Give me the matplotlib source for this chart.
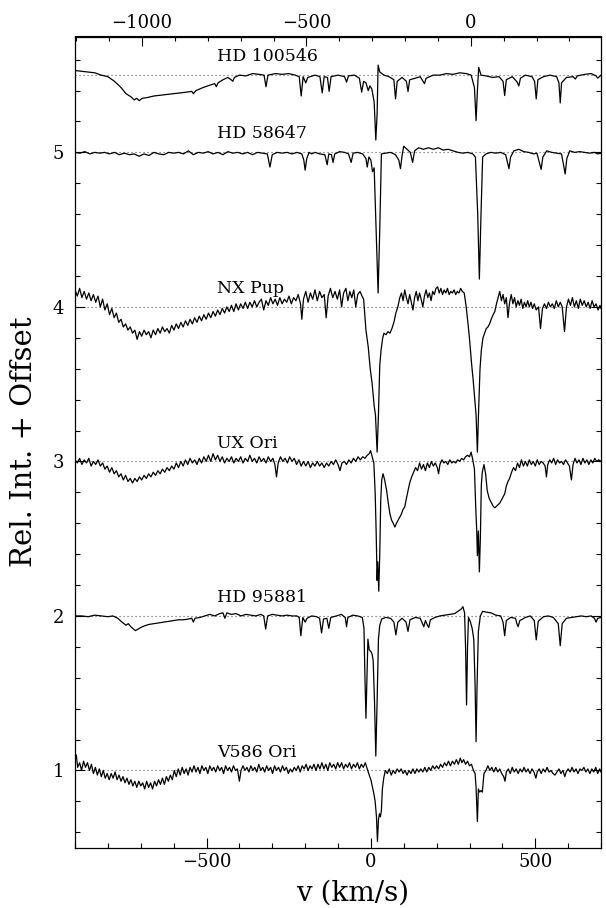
import matplotlib
matplotlib.use('Agg')
import matplotlib.pyplot as plt
from matplotlib.ticker import MultipleLocator

names = ['HD 100546', 'HD 58647', 'NX Pup', 'UX Ori', 'HD 95881', 'V586 Ori']
offsets = [4.5, 4.0, 3.0, 2.0, 1.0, 0.0]
bottom_ticks = [-500, 0, 500]
top_ticks = [-1000, -500, 0]
na_sep = 304.0  # km/s between Na D2 and D1 (top axis shift)

HD100546 = [
    (-900, 1.03), (-880, 1.025), (-860, 1.02), (-840, 1.015), (-820, 1.0), (-800, 0.99),
    (-780, 0.96), (-760, 0.92), (-745, 0.88), (-730, 0.86), (-720, 0.84), (-712, 0.85),
    (-705, 0.835), (-695, 0.85), (-680, 0.855), (-660, 0.865), (-640, 0.87), (-620, 0.875),
    (-600, 0.88), (-580, 0.885), (-560, 0.89), (-545, 0.895), (-540, 0.88), (-532, 0.9),
    (-510, 0.92), (-490, 0.935), (-475, 0.945), (-470, 0.925), (-465, 0.95), (-450, 0.97),
    (-435, 0.985), (-425, 0.97), (-420, 0.96), (-415, 0.985), (-400, 1.0), (-380, 0.995),
    (-360, 1.01), (-340, 1.005), (-325, 1.0), (-319, 0.925), (-313, 1.0), (-290, 1.01),
    (-270, 1.005), (-250, 1.01), (-230, 1.0), (-218, 0.99), (-212, 0.865), (-206, 0.99),
    (-198, 0.95), (-192, 0.985), (-170, 1.0), (-155, 0.99), (-148, 0.885), (-142, 0.99),
    (-132, 0.985), (-127, 0.895), (-121, 0.99), (-100, 1.0), (-80, 0.99), (-74, 0.955),
    (-68, 0.995), (-50, 1.0), (-35, 0.98), (-28, 0.89), (-22, 0.96), (-15, 0.95),
    (-8, 0.9), (-3, 0.93), (3, 0.91), (10, 0.825), (15, 0.58), (19, 0.75), (22, 1.065),
    (27, 1.02), (40, 1.0), (55, 0.99), (70, 0.97), (75, 0.846), (80, 0.96), (95, 0.985),
    (108, 0.96), (113, 0.894), (118, 0.97), (135, 0.98), (150, 0.99), (163, 0.945),
    (168, 0.98), (190, 1.0), (210, 1.0), (230, 1.01), (250, 1.005), (270, 1.015),
    (290, 1.01), (305, 1.0), (315, 0.92), (320, 0.705), (324, 0.9), (328, 1.05),
    (335, 1.0), (350, 0.995), (370, 0.985), (390, 0.99), (402, 0.96), (407, 0.868),
    (412, 0.97), (430, 0.99), (445, 0.955), (450, 0.93), (455, 0.98), (470, 1.0),
    (490, 0.99), (498, 0.96), (503, 0.846), (508, 0.97), (525, 0.99), (545, 1.0),
    (565, 0.99), (572, 0.95), (576, 0.82), (580, 0.95), (595, 0.985), (615, 0.99),
    (622, 0.975), (628, 0.995), (650, 1.005), (670, 1.01), (685, 0.995), (690, 0.98),
    (700, 1.0),
]

HD58647 = [
    (-900, 1.0), (-885, 0.995), (-870, 1.005), (-855, 0.99), (-840, 1.0), (-825, 0.995),
    (-810, 1.0), (-795, 0.99), (-780, 1.0), (-765, 0.985), (-750, 0.995), (-735, 0.985),
    (-720, 0.99), (-705, 0.975), (-690, 0.99), (-675, 0.98), (-660, 1.0), (-645, 0.99),
    (-630, 0.985), (-615, 1.0), (-600, 0.995), (-585, 1.0), (-570, 0.99), (-555, 1.01),
    (-540, 0.985), (-525, 1.0), (-510, 0.995), (-495, 1.005), (-480, 0.99), (-465, 1.0),
    (-450, 0.985), (-435, 1.005), (-420, 0.995), (-405, 1.0), (-390, 0.99), (-375, 1.0),
    (-360, 0.985), (-345, 1.0), (-330, 0.995), (-315, 0.99), (-307, 0.905), (-300, 0.985),
    (-285, 1.0), (-270, 0.995), (-255, 1.0), (-240, 0.99), (-225, 1.0), (-210, 0.99),
    (-204, 0.95), (-200, 0.885), (-195, 0.96), (-188, 1.0), (-180, 0.99), (-170, 1.0),
    (-155, 0.99), (-140, 0.985), (-133, 0.92), (-128, 0.99), (-120, 0.985), (-115, 0.935),
    (-110, 0.99), (-95, 1.005), (-80, 1.0), (-68, 0.99), (-60, 0.935), (-54, 0.995),
    (-40, 1.0), (-25, 0.99), (-15, 0.96), (-11, 0.905), (-6, 0.97), (0, 0.95), (5, 0.875),
    (10, 0.9), (16, 0.5), (22, 0.09), (27, 0.5), (32, 0.99), (45, 0.995), (60, 1.0),
    (75, 0.985), (85, 0.95), (90, 0.895), (95, 0.98), (100, 1.04), (110, 1.02), (120, 1.0),
    (127, 0.935), (133, 1.01), (145, 1.03), (160, 1.02), (175, 1.03), (190, 1.02),
    (205, 1.03), (220, 1.015), (235, 1.02), (250, 1.01), (265, 1.0), (280, 0.995),
    (295, 1.0), (310, 0.99), (318, 0.97), (325, 0.6), (330, 0.18), (335, 0.6), (340, 0.97),
    (350, 0.99), (365, 1.0), (380, 0.995), (395, 1.0), (410, 0.985), (416, 0.93),
    (420, 0.895), (425, 0.97), (435, 1.01), (450, 1.02), (465, 1.005), (480, 1.0),
    (495, 0.99), (505, 0.995), (513, 0.93), (518, 0.89), (523, 0.97), (535, 1.01),
    (550, 1.0), (565, 0.995), (580, 0.99), (586, 0.92), (591, 0.86), (596, 0.96),
    (605, 1.01), (620, 1.0), (635, 1.005), (650, 1.0), (665, 0.995), (680, 1.0),
    (690, 0.99), (700, 0.995),
]

NXPUP = [
    (-900, 1.11), (-893, 1.07), (-886, 1.12), (-879, 1.06), (-872, 1.10), (-865, 1.05),
    (-858, 1.09), (-851, 1.04), (-844, 1.08), (-837, 1.03), (-830, 1.07), (-823, 1.00),
    (-816, 1.05), (-809, 0.98), (-802, 1.02), (-795, 0.95), (-788, 0.99), (-781, 0.93),
    (-774, 0.96), (-767, 0.90), (-760, 0.92), (-753, 0.87), (-746, 0.89), (-739, 0.85),
    (-732, 0.87), (-725, 0.83), (-718, 0.85), (-711, 0.79), (-704, 0.84), (-697, 0.81),
    (-690, 0.85), (-683, 0.82), (-676, 0.84), (-669, 0.80), (-662, 0.85), (-655, 0.82),
    (-648, 0.86), (-641, 0.83), (-634, 0.87), (-627, 0.84), (-620, 0.86), (-613, 0.83),
    (-606, 0.88), (-599, 0.85), (-592, 0.89), (-585, 0.86), (-578, 0.90), (-571, 0.87),
    (-564, 0.91), (-557, 0.88), (-550, 0.92), (-543, 0.89), (-536, 0.93), (-529, 0.90),
    (-522, 0.94), (-515, 0.91), (-508, 0.95), (-501, 0.92), (-494, 0.96), (-487, 0.93),
    (-480, 0.97), (-473, 0.94), (-466, 0.98), (-459, 0.95), (-452, 0.99), (-445, 0.96),
    (-438, 1.00), (-431, 0.97), (-424, 1.01), (-417, 0.97), (-410, 1.02), (-403, 0.98),
    (-396, 1.02), (-389, 0.99), (-382, 1.03), (-375, 0.99), (-368, 1.03), (-361, 1.00),
    (-354, 1.04), (-347, 1.00), (-340, 1.03), (-333, 1.05), (-326, 0.98), (-319, 1.04),
    (-312, 1.01), (-305, 1.06), (-298, 1.02), (-291, 1.05), (-284, 1.01), (-277, 1.06),
    (-270, 1.02), (-263, 1.05), (-256, 1.03), (-249, 1.07), (-242, 1.02), (-235, 1.06),
    (-228, 1.04), (-221, 1.08), (-214, 1.02), (-210, 0.92), (-205, 1.05), (-198, 1.10),
    (-191, 1.03), (-184, 1.09), (-177, 1.05), (-170, 1.11), (-163, 1.04), (-156, 1.10),
    (-149, 1.06), (-142, 1.08), (-136, 0.93), (-130, 1.07), (-123, 1.12), (-116, 1.06),
    (-109, 1.10), (-102, 1.05), (-95, 1.11), (-89, 1.00), (-83, 1.09), (-76, 1.12),
    (-70, 1.04), (-64, 1.10), (-58, 1.06), (-52, 1.11), (-46, 1.00), (-40, 1.08),
    (-33, 1.10), (-27, 1.07), (-22, 1.05), (-15, 0.85), (-8, 0.74), (-2, 0.60), (4, 0.50),
    (10, 0.36), (14, 0.30), (19, 0.06), (23, 0.30), (27, 0.62), (31, 0.72), (36, 0.80),
    (40, 0.83), (46, 0.82), (52, 0.84), (58, 0.83), (64, 0.86), (70, 0.90), (76, 0.96),
    (82, 1.00), (88, 1.06), (93, 1.09), (98, 1.04), (103, 1.11), (108, 1.06), (113, 1.02),
    (118, 1.08), (123, 1.03), (128, 0.98), (133, 1.06), (138, 1.10), (143, 1.04),
    (148, 1.09), (153, 1.05), (158, 1.00), (163, 1.07), (168, 1.11), (173, 1.06),
    (178, 1.09), (183, 1.04), (188, 1.10), (193, 1.08), (198, 1.12), (203, 1.13),
    (208, 1.09), (213, 1.12), (218, 1.08), (223, 1.11), (228, 1.09), (233, 1.12),
    (238, 1.08), (243, 1.10), (248, 1.09), (253, 1.11), (258, 1.08), (263, 1.10),
    (268, 1.09), (273, 1.12), (278, 1.10), (284, 1.09), (290, 1.00), (296, 0.88),
    (301, 0.77), (306, 0.64), (311, 0.53), (316, 0.40), (320, 0.30), (324, 0.06),
    (328, 0.35), (332, 0.60), (336, 0.72), (341, 0.80), (346, 0.83), (351, 0.86),
    (356, 0.87), (361, 0.89), (366, 0.92), (372, 0.95), (377, 0.97), (382, 1.02),
    (387, 1.06), (392, 1.10), (397, 1.04), (402, 1.08), (407, 1.02), (412, 1.06),
    (417, 0.93), (422, 1.03), (427, 1.08), (432, 1.02), (437, 1.06), (442, 1.00),
    (447, 1.04), (452, 1.01), (457, 1.05), (462, 0.99), (467, 1.03), (472, 1.00),
    (477, 1.04), (482, 1.00), (487, 1.03), (492, 0.99), (497, 1.02), (503, 0.98),
    (510, 1.00), (516, 0.86), (522, 0.99), (528, 1.02), (534, 0.99), (540, 1.03),
    (546, 1.00), (552, 1.02), (558, 0.99), (564, 1.04), (570, 1.00), (576, 1.03),
    (582, 1.00), (589, 0.84), (595, 1.00), (601, 1.05), (607, 1.01), (613, 1.06),
    (619, 1.00), (625, 1.04), (631, 0.99), (637, 1.05), (643, 1.01), (649, 1.04),
    (655, 1.00), (661, 1.03), (667, 0.99), (673, 1.04), (679, 1.00), (685, 1.02),
    (691, 0.98), (697, 1.01), (700, 0.99),
]

UXORI = [
    (-900, 1.01), (-893, 0.99), (-886, 1.02), (-879, 0.98), (-872, 1.01), (-865, 0.99),
    (-858, 1.02), (-851, 0.97), (-844, 1.00), (-837, 0.98), (-830, 1.01), (-823, 0.97),
    (-816, 0.99), (-809, 0.95), (-802, 0.97), (-795, 0.93), (-788, 0.96), (-781, 0.92),
    (-774, 0.94), (-767, 0.90), (-760, 0.92), (-753, 0.88), (-746, 0.91), (-739, 0.87),
    (-732, 0.89), (-725, 0.86), (-718, 0.89), (-711, 0.87), (-704, 0.90), (-697, 0.88),
    (-690, 0.91), (-683, 0.89), (-676, 0.92), (-669, 0.90), (-662, 0.93), (-655, 0.91),
    (-648, 0.94), (-641, 0.92), (-634, 0.95), (-627, 0.93), (-620, 0.96), (-613, 0.94),
    (-606, 0.97), (-599, 0.95), (-592, 0.99), (-585, 0.96), (-578, 1.00), (-571, 0.97),
    (-564, 1.01), (-557, 0.98), (-550, 1.02), (-543, 0.99), (-536, 1.01), (-529, 0.98),
    (-522, 1.02), (-515, 0.99), (-508, 1.03), (-501, 1.00), (-494, 1.04), (-487, 1.00),
    (-480, 1.05), (-473, 1.01), (-466, 1.04), (-459, 1.00), (-452, 1.03), (-445, 0.99),
    (-438, 1.02), (-431, 1.00), (-424, 1.03), (-417, 0.99), (-410, 1.02), (-403, 1.00),
    (-396, 1.03), (-389, 0.99), (-382, 1.02), (-375, 1.00), (-368, 1.04), (-361, 1.00),
    (-354, 1.02), (-347, 0.99), (-340, 1.03), (-333, 1.00), (-326, 1.02), (-319, 0.99),
    (-312, 1.03), (-305, 1.00), (-298, 1.02), (-292, 0.98), (-287, 0.90), (-282, 0.99),
    (-275, 1.03), (-268, 1.00), (-261, 1.02), (-254, 0.99), (-247, 1.03), (-240, 1.00),
    (-233, 1.02), (-226, 0.98), (-219, 1.01), (-212, 0.97), (-205, 1.00), (-198, 0.97),
    (-191, 1.00), (-184, 0.96), (-177, 0.99), (-170, 0.97), (-163, 1.00), (-156, 0.97),
    (-149, 0.99), (-142, 0.96), (-135, 0.99), (-128, 0.97), (-121, 1.00), (-114, 0.98),
    (-107, 1.01), (-100, 0.98), (-94, 0.94), (-88, 0.99), (-81, 1.00), (-74, 0.98),
    (-67, 1.01), (-60, 0.99), (-53, 1.02), (-46, 1.00), (-39, 1.03), (-32, 1.01),
    (-25, 1.03), (-18, 1.02), (-11, 1.04), (-5, 1.05), (-1, 1.07), (4, 1.03), (9, 0.99),
    (13, 0.80), (16, 0.55), (19, 0.23), (21, 0.35), (24, 0.16), (27, 0.40), (30, 0.75),
    (33, 0.88), (37, 0.92), (42, 0.88), (48, 0.81), (53, 0.73), (58, 0.66), (63, 0.62),
    (68, 0.60), (73, 0.575), (78, 0.60), (83, 0.62), (88, 0.64), (93, 0.66), (98, 0.69),
    (103, 0.705), (108, 0.76), (113, 0.81), (118, 0.86), (124, 0.90), (130, 0.93),
    (136, 0.96), (142, 0.94), (148, 0.99), (154, 0.95), (160, 0.98), (166, 0.94),
    (172, 0.99), (178, 0.96), (184, 1.00), (190, 0.97), (196, 0.99), (202, 0.96),
    (206, 0.92), (210, 0.98), (216, 1.01), (222, 0.99), (228, 1.00), (234, 0.98),
    (240, 1.01), (246, 0.99), (252, 1.00), (258, 0.99), (264, 1.01), (270, 1.00),
    (276, 1.02), (282, 1.01), (288, 1.03), (294, 1.04), (300, 1.03), (305, 1.06),
    (310, 1.01), (315, 0.95), (319, 0.70), (322, 0.55), (324, 0.39), (327, 0.55),
    (330, 0.285), (333, 0.50), (336, 0.85), (339, 0.93), (344, 0.98), (349, 0.92),
    (354, 0.81), (360, 0.76), (367, 0.73), (372, 0.71), (377, 0.70), (382, 0.71),
    (387, 0.72), (392, 0.73), (397, 0.75), (402, 0.77), (407, 0.79), (412, 0.84),
    (417, 0.87), (422, 0.89), (428, 0.93), (434, 0.96), (440, 0.94), (446, 0.99),
    (452, 0.96), (458, 1.01), (464, 0.97), (470, 1.00), (476, 0.97), (482, 1.01),
    (488, 0.98), (494, 1.00), (500, 0.97), (506, 1.01), (512, 0.98), (518, 1.00),
    (524, 0.99), (530, 0.97), (534, 0.90), (538, 0.98), (544, 1.01), (550, 0.99),
    (556, 1.02), (562, 0.98), (568, 1.01), (574, 0.99), (580, 1.00), (586, 0.98),
    (592, 1.01), (598, 0.99), (604, 0.97), (610, 0.88), (615, 0.98), (621, 1.02),
    (627, 0.99), (633, 1.01), (639, 0.98), (645, 1.02), (651, 0.99), (657, 1.01),
    (663, 0.98), (669, 1.01), (675, 0.99), (681, 1.02), (687, 1.00), (693, 1.01),
    (700, 1.00),
]

HD95881 = [
    (-900, 1.0), (-880, 1.0), (-860, 0.995), (-840, 1.005), (-820, 1.0), (-800, 0.995),
    (-785, 1.0), (-770, 0.985), (-757, 0.96), (-745, 0.94), (-738, 0.95), (-730, 0.93),
    (-722, 0.915), (-716, 0.905), (-708, 0.915), (-700, 0.925), (-690, 0.935),
    (-675, 0.945), (-660, 0.95), (-645, 0.955), (-630, 0.96), (-615, 0.965), (-600, 0.97),
    (-585, 0.975), (-570, 0.975), (-555, 0.98), (-545, 0.985), (-540, 0.96), (-535, 0.985),
    (-520, 0.99), (-505, 1.0), (-490, 1.01), (-475, 1.0), (-460, 1.015), (-450, 1.02),
    (-444, 0.985), (-438, 1.02), (-425, 1.01), (-410, 1.015), (-395, 1.0), (-380, 1.01),
    (-365, 1.005), (-350, 1.0), (-335, 1.01), (-326, 1.0), (-320, 0.915), (-314, 1.0),
    (-300, 1.01), (-285, 1.005), (-270, 1.0), (-255, 1.005), (-240, 1.0), (-225, 1.0),
    (-218, 0.99), (-213, 0.872), (-207, 0.99), (-200, 0.96), (-194, 0.985), (-180, 1.0),
    (-165, 0.995), (-156, 0.985), (-150, 0.89), (-144, 0.98), (-134, 0.985), (-128, 0.92),
    (-122, 0.99), (-105, 1.0), (-90, 1.01), (-78, 0.99), (-74, 0.93), (-70, 0.99),
    (-55, 1.005), (-40, 1.0), (-26, 0.99), (-21, 0.92), (-18, 0.6), (-15, 0.338),
    (-12, 0.6), (-9, 0.85), (-5, 0.78), (0, 0.77), (4, 0.75), (7, 0.71), (11, 0.45),
    (15, 0.093), (19, 0.45), (23, 0.85), (27, 0.94), (33, 0.98), (45, 0.99), (60, 0.985),
    (70, 0.96), (76, 0.877), (82, 0.96), (95, 0.985), (107, 0.96), (113, 0.9), (119, 0.975),
    (135, 0.99), (150, 0.985), (157, 0.95), (161, 0.93), (166, 0.97), (172, 0.94),
    (176, 0.925), (181, 0.975), (195, 0.99), (210, 1.0), (225, 1.005), (240, 1.01),
    (255, 1.015), (265, 1.03), (275, 1.045), (280, 1.06), (285, 1.02), (288, 0.8),
    (291, 0.424), (294, 0.8), (297, 0.99), (303, 0.96), (308, 0.92), (313, 0.85),
    (317, 0.55), (320, 0.186), (323, 0.55), (327, 0.9), (333, 1.0), (340, 1.03),
    (350, 1.025), (365, 1.02), (380, 1.005), (395, 1.0), (402, 0.96), (407, 0.872),
    (412, 0.97), (425, 0.99), (440, 0.985), (444, 0.95), (448, 0.93), (453, 0.97),
    (470, 0.99), (485, 1.0), (497, 0.97), (503, 0.845), (509, 0.965), (525, 0.995),
    (540, 1.0), (555, 0.99), (570, 0.95), (576, 0.807), (582, 0.95), (595, 0.985),
    (610, 0.99), (625, 0.995), (640, 1.0), (655, 0.995), (670, 1.0), (680, 0.985),
    (685, 0.96), (690, 0.985), (700, 0.99),
]

V586ORI = [
    (-900, 1.06), (-896, 1.10), (-892, 1.02), (-886, 1.05), (-880, 1.00), (-874, 1.06),
    (-868, 1.02), (-862, 1.05), (-856, 1.00), (-850, 1.04), (-844, 0.98), (-838, 1.02),
    (-832, 0.97), (-826, 1.01), (-820, 0.96), (-814, 1.00), (-808, 0.95), (-802, 0.98),
    (-796, 0.94), (-790, 0.98), (-784, 0.95), (-778, 0.99), (-772, 0.94), (-766, 0.97),
    (-760, 0.93), (-754, 0.96), (-748, 0.92), (-742, 0.95), (-736, 0.91), (-730, 0.94),
    (-724, 0.90), (-718, 0.93), (-712, 0.89), (-706, 0.93), (-700, 0.90), (-694, 0.92),
    (-688, 0.88), (-682, 0.93), (-676, 0.89), (-670, 0.92), (-664, 0.88), (-658, 0.93),
    (-652, 0.90), (-646, 0.94), (-640, 0.91), (-634, 0.95), (-628, 0.91), (-622, 0.96),
    (-616, 0.93), (-610, 0.97), (-604, 0.94), (-598, 1.00), (-592, 0.96), (-586, 1.01),
    (-580, 0.97), (-574, 1.02), (-568, 0.98), (-562, 1.01), (-556, 0.97), (-550, 1.02),
    (-544, 0.99), (-538, 1.03), (-532, 0.99), (-526, 1.02), (-520, 0.98), (-514, 1.03),
    (-508, 1.00), (-502, 1.02), (-496, 0.98), (-490, 1.03), (-484, 1.00), (-478, 1.02),
    (-472, 0.99), (-466, 1.03), (-460, 1.00), (-454, 1.02), (-448, 0.98), (-442, 1.03),
    (-436, 1.00), (-430, 1.02), (-424, 0.99), (-418, 1.03), (-412, 1.00), (-406, 1.01),
    (-400, 0.93), (-395, 1.00), (-389, 1.03), (-383, 1.00), (-377, 1.02), (-371, 0.99),
    (-365, 1.03), (-359, 1.00), (-353, 1.02), (-347, 0.99), (-341, 1.04), (-335, 1.00),
    (-329, 1.02), (-323, 0.99), (-317, 1.03), (-311, 1.00), (-305, 1.02), (-299, 0.98),
    (-293, 1.03), (-287, 1.00), (-281, 1.02), (-275, 0.99), (-269, 1.03), (-263, 1.00),
    (-257, 1.02), (-251, 0.98), (-245, 1.01), (-239, 0.99), (-233, 1.02), (-227, 1.00),
    (-221, 1.03), (-215, 0.99), (-209, 1.03), (-203, 1.01), (-197, 1.04), (-191, 1.00),
    (-185, 1.03), (-179, 1.01), (-173, 1.04), (-167, 1.00), (-161, 1.04), (-155, 1.01),
    (-149, 1.05), (-143, 1.01), (-137, 1.04), (-131, 1.00), (-125, 1.05), (-119, 1.02),
    (-113, 1.04), (-107, 1.01), (-101, 1.05), (-95, 1.02), (-89, 1.05), (-83, 1.01),
    (-77, 1.04), (-71, 1.02), (-65, 1.05), (-59, 1.01), (-53, 1.04), (-47, 1.02),
    (-41, 1.05), (-35, 1.01), (-29, 1.04), (-23, 1.02), (-17, 1.05), (-11, 1.01),
    (-5, 0.97), (0, 0.94), (5, 0.89), (9, 0.85), (13, 0.80), (17, 0.70), (20, 0.54),
    (23, 0.68), (26, 0.72), (29, 0.70), (32, 0.74), (35, 0.88), (39, 0.95), (44, 1.00),
    (50, 0.98), (56, 1.01), (62, 0.97), (68, 1.00), (74, 0.98), (80, 1.01), (86, 0.99),
    (92, 1.01), (98, 0.98), (104, 1.00), (110, 0.97), (116, 1.00), (122, 0.98),
    (128, 1.01), (134, 0.98), (140, 1.01), (146, 0.99), (152, 1.01), (158, 0.99),
    (164, 1.02), (170, 0.99), (176, 1.02), (182, 1.00), (188, 1.03), (194, 1.01),
    (200, 1.03), (206, 1.01), (212, 1.04), (218, 1.02), (224, 1.05), (230, 1.03),
    (236, 1.06), (242, 1.03), (248, 1.06), (254, 1.04), (260, 1.07), (266, 1.04),
    (272, 1.08), (277, 1.05), (282, 1.07), (288, 1.04), (294, 1.06), (300, 1.03),
    (306, 1.04), (312, 1.00), (317, 0.98), (320, 0.89), (324, 0.67), (327, 0.88),
    (331, 0.86), (335, 0.87), (339, 0.86), (344, 0.98), (350, 1.00), (356, 1.03),
    (362, 1.00), (368, 1.02), (374, 0.99), (380, 1.02), (386, 0.99), (392, 1.01),
    (398, 0.98), (404, 0.96), (408, 0.93), (412, 0.99), (418, 1.01), (424, 0.98),
    (430, 1.02), (436, 0.99), (442, 1.01), (448, 0.98), (454, 1.01), (460, 0.99),
    (466, 1.02), (472, 0.99), (478, 1.01), (484, 0.98), (490, 1.01), (496, 0.99),
    (502, 0.95), (506, 0.99), (512, 1.01), (518, 0.98), (524, 1.01), (530, 0.99),
    (536, 1.02), (542, 0.99), (548, 1.00), (554, 0.98), (560, 0.97), (566, 0.99),
    (572, 1.01), (578, 0.98), (584, 1.00), (590, 0.96), (594, 0.99), (600, 1.01),
    (606, 0.99), (612, 1.02), (618, 0.99), (624, 1.01), (630, 0.98), (636, 1.01),
    (642, 1.00), (648, 1.02), (654, 0.99), (660, 1.01), (666, 0.98), (672, 1.01),
    (678, 0.99), (684, 1.02), (690, 0.98), (696, 1.01), (700, 0.99),
]

spectra = [HD100546, HD58647, NXPUP, UXORI, HD95881, V586ORI]

FONT = 'DejaVu Serif'
plt.rcParams['font.family'] = [FONT, 'DejaVu Sans']
plt.rcParams['mathtext.fontset'] = 'dejavuserif'

fig = plt.figure(figsize=(6.06, 9.08), dpi=100)
ax = fig.add_axes([75 / 606, 60.3 / 908, 526 / 606, 811.2 / 908])

for name, off, spec in zip(names, offsets, spectra):
    v = [p[0] for p in spec]
    f = [p[1] + off for p in spec]
    ax.axhline(1 + off, ls=(0, (1, 2.6)), color='0.35', lw=0.8, zorder=1)
    ax.plot(v, f, color='k', lw=0.9, zorder=2)
    ax.text(-468, 1 + off + 0.09, name, fontsize=12.5, va='baseline', ha='left')

ax.set_xlim(-900, 700)
ax.set_ylim(0.5, 5.75)
ax.set_xticks(bottom_ticks)
ax.xaxis.set_minor_locator(MultipleLocator(100))
ax.set_yticks([1, 2, 3, 4, 5])
ax.yaxis.set_minor_locator(MultipleLocator(0.2))
ax.tick_params(which='both', direction='in', right=True, labelsize=13, width=0.8)
ax.tick_params(which='major', length=7)
ax.tick_params(which='minor', length=3.5)
ax.tick_params(axis='y', pad=8)

sec = ax.secondary_xaxis('top', functions=(lambda x: x - na_sep, lambda t: t + na_sep))
sec.set_xticks(top_ticks)
sec.xaxis.set_minor_locator(MultipleLocator(100))
sec.tick_params(which='both', direction='in', labelsize=13, width=0.8)
sec.tick_params(which='major', length=7)
sec.tick_params(which='minor', length=3.5)

for s in ax.spines.values():
    s.set_linewidth(0.9)

ax.set_xlabel('v (km/s)', fontsize=20, labelpad=2)
ax.xaxis.set_label_coords(0.527, -0.039, transform=ax.transAxes)
ax.xaxis.label.set_va('top')
ax.set_ylabel('Rel. Int. + Offset', fontsize=21, labelpad=10)

fig.savefig('out.png', dpi=100)
